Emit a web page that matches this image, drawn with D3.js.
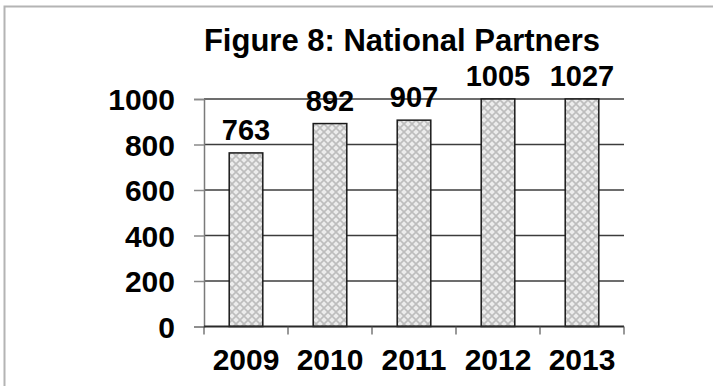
<!DOCTYPE html>
<html>
<head>
<meta charset="utf-8">
<script src="https://cdn.jsdelivr.net/npm/d3@7"></script>
<style>
  html, body { margin: 0; padding: 0; background: #fff; }
  svg { display: block; }
  text { font-family: "Liberation Sans", Arial, sans-serif; font-weight: bold; fill: #000; }
</style>
</head>
<body>
<svg id="chart" width="713" height="386"></svg>
<script>
// Partner counts per year
const years = ["2009", "2010", "2011", "2012", "2013"];
const partners = [763, 892, 907, 1005, 1027];
const yTicks = [0, 200, 400, 600, 800, 1000];
const titleText = "Figure 8: National Partners";

const svg = d3.select("#chart");
const W = 713, H = 386;
const plot = { left: 204, right: 624, top: 99, bottom: 326.5 };

// Outer frame (continues past the right and bottom edges)
svg.append("rect")
  .attr("x", 4.5).attr("y", 6.5)
  .attr("width", W + 20).attr("height", H + 20)
  .attr("fill", "#fff")
  .attr("stroke", "#b4b4b4").attr("stroke-width", 2);

// Crosshatch fill for the bars
const defs = svg.append("defs");
const pat = defs.append("pattern")
  .attr("id", "hatch")
  .attr("patternUnits", "userSpaceOnUse")
  .attr("width", 8).attr("height", 8);
pat.append("rect").attr("width", 8).attr("height", 8).attr("fill", "#ececec");
pat.append("path")
  .attr("d", "M0,0 L8,8 M8,0 L0,8")
  .attr("stroke", "#bdbdbd").attr("stroke-width", 1.6);

const x = d3.scaleBand()
  .domain(years)
  .range([plot.left, plot.right])
  .paddingInner(0.6)
  .paddingOuter(0.3);

const y = d3.scaleLinear()
  .domain([0, 1000])
  .range([plot.bottom, plot.top]);

// Horizontal gridlines
svg.append("g")
  .selectAll("line")
  .data(yTicks.filter(d => d > 0))
  .join("line")
  .attr("x1", plot.left).attr("x2", plot.right)
  .attr("y1", d => y(d)).attr("y2", d => y(d))
  .attr("stroke", "#3c3c3c").attr("stroke-width", 1.6);

// Y axis
const yAxis = svg.append("g")
  .attr("transform", `translate(${plot.left},0)`)
  .call(d3.axisLeft(y).tickValues(yTicks).tickSize(10).tickPadding(19).tickFormat(d3.format("d")));
yAxis.select(".domain").attr("stroke", "#7a7a7a").attr("stroke-width", 1.5);
yAxis.selectAll(".tick line").attr("stroke", "#8a8a8a").attr("stroke-width", 1.5);
yAxis.selectAll(".tick text")
  .style("font-size", "30px")
  .style("font-family", "'Liberation Sans', Arial, sans-serif")
  .style("font-weight", "bold")
  .attr("fill", "#000")
  .attr("dy", "0.36em");

// Bars, clipped to the axis maximum
const yMax = y.domain()[1];
svg.append("g")
  .selectAll("rect")
  .data(years.map((yr, i) => ({ yr, v: partners[i] })))
  .join("rect")
  .attr("x", d => x(d.yr))
  .attr("width", x.bandwidth())
  .attr("y", d => y(Math.min(d.v, yMax)))
  .attr("height", d => plot.bottom - y(Math.min(d.v, yMax)))
  .attr("fill", "url(#hatch)")
  .attr("stroke", "#1a1a1a").attr("stroke-width", 1.5);

// X axis with category boundary ticks
const xAxisG = svg.append("g");
xAxisG.append("line")
  .attr("x1", plot.left).attr("x2", plot.right)
  .attr("y1", plot.bottom).attr("y2", plot.bottom)
  .attr("stroke", "#2a2a2a").attr("stroke-width", 2);
const boundaries = d3.range(years.length + 1).map(i => plot.left + i * (plot.right - plot.left) / years.length);
xAxisG.selectAll("line.b")
  .data(boundaries)
  .join("line")
  .attr("class", "b")
  .attr("x1", d => d).attr("x2", d => d)
  .attr("y1", plot.bottom).attr("y2", plot.bottom + 8)
  .attr("stroke", "#555").attr("stroke-width", 1.2);
xAxisG.selectAll("text")
  .data(years)
  .join("text")
  .attr("x", d => x(d) + x.bandwidth() / 2)
  .attr("y", 370)
  .attr("text-anchor", "middle")
  .style("font-size", "30px")
  .text(d => d);

// Value labels
svg.append("g")
  .selectAll("text")
  .data(years.map((yr, i) => ({ yr, v: partners[i] })))
  .join("text")
  .attr("x", d => x(d.yr) + x.bandwidth() / 2)
  .attr("y", d => y(Math.min(d.v, yMax)) - 13)
  .attr("text-anchor", "middle")
  .style("font-size", "29px")
  .text(d => d.v);

// Title
svg.append("text")
  .attr("x", 402).attr("y", 51)
  .attr("text-anchor", "middle")
  .style("font-size", "31px")
  .text(titleText);
</script>
</body>
</html>
